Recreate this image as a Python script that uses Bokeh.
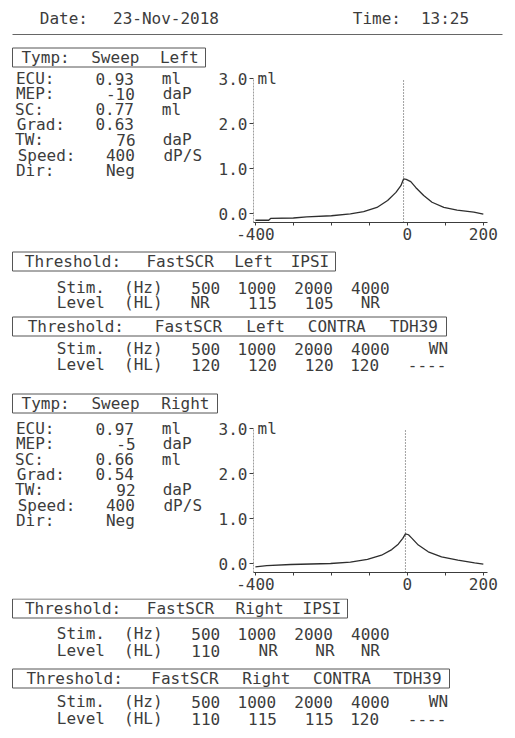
from bokeh.plotting import figure
from bokeh.layouts import column, row
from bokeh.models import (Range1d, FixedTicker, NumeralTickFormatter,
                          Label, ColumnDataSource)
from bokeh.embed import file_html
from bokeh.resources import INLINE
from bokeh.core.properties import value

# ---------------- data ----------------
report_date = "23-Nov-2018"
report_time = "13:25"

param_labels = ["ECU:", "MEP:", "SC:", "Grad:", "TW:", "Speed:", "Dir:"]
param_units = ["ml", "daP", "ml", "", "daP", "dP/S", ""]
left_values = ["0.93", "-10", "0.77", "0.63", "76", "400", "Neg"]
right_values = ["0.97", "-5", "0.66", "0.54", "92", "400", "Neg"]
left_mep = -10
right_mep = -5

left_pressure = [-400, -365, -360, -300, -265, -200, -150, -115, -80, -52,
                 -30, -17, -10, -3, 9, 22, 43, 65, 96, 131, 175, 200]
left_compliance = [-0.15, -0.15, -0.11, -0.10, -0.075, -0.05, -0.01, 0.04,
                   0.135, 0.29, 0.47, 0.62, 0.77, 0.76, 0.71, 0.58, 0.40,
                   0.25, 0.135, 0.075, 0.03, -0.015]
right_pressure = [-400, -370, -307, -202, -150, -105, -68, -41, -24, -12,
                  -5, 3, 11, 29, 55, 90, 133, 177, 200]
right_compliance = [-0.074, -0.045, -0.022, 0.0, 0.03, 0.09, 0.185, 0.31,
                    0.43, 0.56, 0.66, 0.64, 0.57, 0.41, 0.26, 0.15, 0.074,
                    0.015, -0.015]

y_ticks = [0, 1, 2, 3]
x_ticks = [-400, -300, -200, -100, 0, 100, 200]
x_tick_labels = ["-400", "", "", "", "0", "", "200"]
y_unit = "ml"

freqs = ["500", "1000", "2000", "4000"]
left_ipsi = ["NR", "115", "105", "NR"]
left_contra = ["120", "120", "120", "120"]
right_ipsi = ["110", "NR", "NR", "NR"]
right_contra = ["110", "115", "115", "120"]
wn_header = "WN"
wn_level = "----"

# ---------------- style ----------------
FONT = "DejaVu Sans Mono"
FS = "16px"
INK = "#3c3c3c"
CW = 11.35
W = 515
X_START, X_END = -405, 211
Y_START, Y_TOP, Y_END = -0.2, 3.0, 3.16


def canvas(top, height, width=W, left=0):
    p = figure(width=width, height=height,
               x_range=Range1d(left, left + width),
               y_range=Range1d(top + height, top),
               x_axis_type=None, y_axis_type=None,
               output_backend="svg", toolbar_location=None, min_border=0)
    p.frame_align = False
    p.outline_line_color = None
    p.background_fill_color = "white"
    p.border_fill_color = "white"
    return p


def put(p, items):
    src = ColumnDataSource(dict(t=[i[0] for i in items],
                                x=[i[1] for i in items],
                                y=[i[2] for i in items]))
    p.text(x="x", y="y", text="t", source=src, text_font=value(FONT),
           text_font_size=FS, text_color=INK, text_align="center",
           text_baseline="middle")


def tok(text, x0, col, y, cw=CW, align="l"):
    n = len(text)
    start = col if align == "l" else col - n
    return (text, x0 + cw * (start + n / 2.0), y)


def words(line, x0, y, cw=CW):
    out = []
    col = 0
    for part in line.split(" "):
        if part:
            out.append(tok(part, x0, col, y, cw))
        col += len(part) + 1
    return out


def title_box(p, title, left, right, yc):
    p.quad(left=[left], right=[right], top=[yc - 9.5], bottom=[yc + 9.5],
           fill_color=None, line_color="#555555", line_width=1)
    cw = (right - left - 7) / len(title)
    put(p, words(title, left + 4, yc, cw))


def params_canvas(top, values):
    p = canvas(top, 180, width=208)
    items = []
    for i, (lab, val, unit) in enumerate(zip(param_labels, values, param_units)):
        y = top + 10 + i * 15.3
        items.append(tok(lab, 12, 0, y))
        items.append(tok(val, 12, 11, y, align="r"))
        if unit:
            items.append(tok(unit, 12, 13, y))
    put(p, items)
    return p


def tymp(pressure, compliance, mep):
    p = figure(width=307, height=180, x_range=Range1d(X_START, X_END),
               y_range=Range1d(Y_START, Y_END), output_backend="svg",
               toolbar_location=None, min_border_left=45, min_border_right=28,
               min_border_top=3, min_border_bottom=26)
    p.frame_align = False
    p.grid.visible = False
    p.outline_line_color = None
    p.background_fill_color = "white"
    p.border_fill_color = "white"
    # y axis line (dotted) ending at the top tick
    p.segment(x0=[X_START], y0=[Y_START], x1=[X_START], y1=[Y_TOP],
              line_color=INK, line_dash="2 1", line_width=1)
    # dotted marker at the pressure peak
    p.segment(x0=[mep], y0=[Y_START], x1=[mep], y1=[Y_TOP],
              line_color="#444444", line_dash="1 2", line_width=1)
    p.line(pressure, compliance, line_color="#2e2e2e", line_width=1.3)
    xa, ya = p.xaxis[0], p.yaxis[0]
    xa.ticker = FixedTicker(ticks=x_ticks)
    xa.major_label_overrides = {t: l for t, l in zip(x_ticks, x_tick_labels)}
    xa.minor_tick_line_color = None
    xa.major_tick_out = 3
    xa.major_tick_in = 0
    xa.major_label_standoff = 2
    xa.axis_line_color = INK
    ya.ticker = FixedTicker(ticks=y_ticks)
    ya.formatter = NumeralTickFormatter(format="0.0")
    ya.minor_tick_line_color = None
    ya.major_tick_out = 4
    ya.major_tick_in = 0
    ya.major_label_standoff = 2
    ya.axis_line_color = None
    for a in (xa, ya):
        a.major_tick_line_color = INK
        a.major_label_text_font = FONT
        a.major_label_text_font_size = FS
        a.major_label_text_color = INK
    p.add_layout(Label(x=X_START, y=Y_TOP, text=y_unit, x_offset=4,
                       text_baseline="middle", text_font=FONT,
                       text_font_size=FS, text_color=INK))
    return p


def threshold_rows(x0, y_stim, y_level, levels, wn=False):
    items = []
    items += [tok("Stim.", x0, 0, y_stim), tok("(Hz)", x0, 6, y_stim)]
    items += [tok("Level", x0, 0, y_level), tok("(HL)", x0, 6, y_level)]
    fcols = [12, 16, 21, 26]
    lends = [None, 20, 25, 29]
    for f, c in zip(freqs, fcols):
        items.append(tok(f, x0, c, y_stim))
    for i, lv in enumerate(levels):
        if i == 0:
            items.append(tok(lv, x0, 12, y_level))
        else:
            items.append(tok(lv, x0, lends[i], y_level, align="r"))
    if wn:
        items.append(tok(wn_header, x0, 35, y_stim, align="r"))
        items.append(tok(wn_level, x0, 35, y_level, align="r"))
    return items


# ---------------- header ----------------
head = canvas(0, 68)
put(head, [tok("Date:", 35, 0, 18), tok(report_date, 35, 6, 18),
           tok("Time:", 348, 0, 18), tok(report_time, 348, 6, 18)])
head.segment(x0=[12], y0=[34], x1=[502], y1=[34], line_color="#666666",
             line_width=1)
title_box(head, "Tymp: Sweep Left", 12, 205, 57)

# ---------------- left tymp ----------------
lp = params_canvas(68, left_values)
lt = tymp(left_pressure, left_compliance, left_mep)

# ---------------- left thresholds ----------------
th1 = canvas(248, 170)
title_box(th1, "Threshold: FastSCR Left IPSI", 12, 335, 261)
put(th1, threshold_rows(52, 287, 302, left_ipsi))
title_box(th1, "Threshold: FastSCR Left CONTRA TDH39", 12, 446, 326)
put(th1, threshold_rows(52, 348, 364, left_contra, wn=True))
title_box(th1, "Tymp: Sweep Right", 12, 217, 403)

# ---------------- right tymp ----------------
rp = params_canvas(418, right_values)
rt = tymp(right_pressure, right_compliance, right_mep)

# ---------------- right thresholds ----------------
th2 = canvas(598, 138)
title_box(th2, "Threshold: FastSCR Right IPSI", 12, 347, 608)
put(th2, threshold_rows(52, 633, 650, right_ipsi))
title_box(th2, "Threshold: FastSCR Right CONTRA TDH39", 12, 449, 678)
put(th2, threshold_rows(52, 701, 718, right_contra, wn=True))

layout = column(head, row(lp, lt), th1, row(rp, rt), th2)
open("out.html", "w").write(file_html(layout, INLINE))
